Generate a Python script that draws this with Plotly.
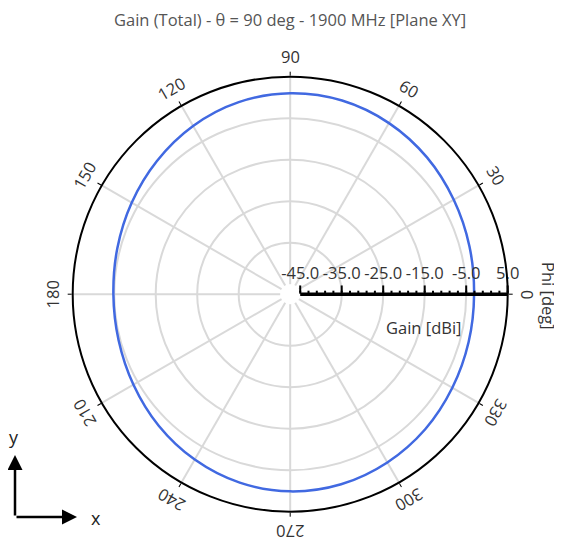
import math
import plotly.graph_objects as go

# ==========================================================
# Data
# ==========================================================

phi_deg = [0, 15, 30, 45, 60, 75, 90, 105, 120, 135, 150, 165, 180,
           195, 210, 225, 240, 255, 270, 285, 300, 315, 330, 345, 360]
gain_dbi = [-3.1, -2.7, -1.9, -0.8, 0.2, 0.9, 1.0, 0.5, -0.6, -2.0, -3.3, -4.3, -4.8,
            -4.6, -3.8, -2.6, -1.4, -0.4, 0.1, 0.0, -0.6, -1.4, -2.3, -2.9, -3.1]

angle_ticks = [0, 30, 60, 90, 120, 150, 180, 210, 240, 270, 300, 330]
radial_range = [-45, 5]
radial_ticks = [-45, -35, -25, -15, -5, 5]
radial_labels = ["-45.0", "-35.0", "-25.0", "-15.0", "-5.0", "5.0"]
minor_ticks = list(range(-45, 6, 2))

title_text = "Gain (Total) - θ = 90 deg - 1900 MHz [Plane XY]"

# ==========================================================
# Geometry helpers (screen pixels of the 562x541 window;
# the page body adds an 8 px margin around the figure)
# ==========================================================

OFF = 8
W, H = 562 - OFF, 541 - OFF
CX, CY, R = 290.2, 294.2, 217.5
FONT = "Open Sans, Noto Sans, sans-serif"
FS = 16.5
HOLE = 0.046


def px(x, y):
    return (x - OFF) / W, (H - (y - OFF)) / H


def label(x, y, text, size=FS, color="#333", angle=0):
    lx, ly = px(x, y)
    return dict(x=lx, y=ly, xref="paper", yref="paper", text=text,
                showarrow=False, textangle=angle,
                xanchor="center", yanchor="middle",
                font=dict(size=size, color=color))


fig = go.Figure()

fig.add_trace(go.Scatterpolar(
    r=gain_dbi,
    theta=phi_deg,
    mode="lines",
    line=dict(color="#4169e1", width=2.5, shape="spline"),
    showlegend=False,
))

# empty trace so the overlay subplot (outer ring + minor ticks) gets drawn
fig.add_trace(go.Scatterpolar(r=[None], theta=[None], subplot="polar2",
                              mode="lines", showlegend=False))

x0, y1 = px(CX - R, CY - R)
x1, y0 = px(CX + R, CY + R)
dom = dict(x=[x0, x1], y=[y0, y1])

# the overlay has no hole, so stretch its range to line up with the main one
ext = (radial_range[1] - radial_range[0]) * HOLE / (1 - HOLE)

fig.update_layout(
    width=W,
    height=H,
    margin=dict(l=0, r=0, t=0, b=0),
    paper_bgcolor="white",
    font=dict(family=FONT, color="#444", size=FS),
    polar=dict(
        domain=dom,
        bgcolor="white",
        hole=HOLE,
        angularaxis=dict(
            rotation=0,
            direction="counterclockwise",
            tickmode="array",
            tickvals=angle_ticks,
            showticklabels=False,
            ticks="",
            showline=False,
            gridcolor="#d9d9d9",
            gridwidth=1.5,
        ),
        radialaxis=dict(
            range=radial_range,
            angle=0,
            tickangle=0,
            side="counterclockwise",
            tickmode="array",
            tickvals=radial_ticks,
            ticktext=radial_labels,
            ticks="outside",
            ticklen=7,
            tickwidth=2,
            tickcolor="black",
            linecolor="black",
            linewidth=3.5,
            gridcolor="#d9d9d9",
            gridwidth=1.5,
            tickfont=dict(size=FS, color="#333"),
        ),
    ),
    polar2=dict(
        domain=dom,
        bgcolor="rgba(0,0,0,0)",
        hole=0,
        angularaxis=dict(
            rotation=0,
            direction="counterclockwise",
            tickmode="array",
            tickvals=angle_ticks,
            showticklabels=False,
            ticks="outside",
            ticklen=4,
            tickcolor="black",
            showline=True,
            linecolor="black",
            linewidth=2,
            showgrid=False,
        ),
        radialaxis=dict(
            range=[radial_range[0] - ext, radial_range[1]],
            angle=0,
            side="counterclockwise",
            tickmode="array",
            tickvals=minor_ticks,
            showticklabels=False,
            ticks="outside",
            ticklen=3,
            tickwidth=1.5,
            tickcolor="black",
            showline=False,
            showgrid=False,
        ),
    ),
)

annotations = [label(290, 20, title_text, color="#555")]

# angular tick labels, rotated along the circle
for a in angle_ticks:
    rad = math.radians(a)
    annotations.append(label(CX + 238 * math.cos(rad), CY - 238 * math.sin(rad),
                             str(a), angle=90 - a))

# axis titles
annotations.append(label(423, 327, "Gain [dBi]"))
annotations.append(label(549, 296, "Phi [deg]", angle=90))

# little x/y orientation icon, bottom left
ux, uy = px(15, 455)
annotations.append(dict(x=ux, y=uy, xref="paper", yref="paper", ax=0, ay=62,
                        showarrow=True, arrowhead=2, arrowsize=1.2, arrowwidth=2.5,
                        arrowcolor="black", text=""))
rx, ry = px(77, 517)
annotations.append(dict(x=rx, y=ry, xref="paper", yref="paper", ax=-62, ay=0,
                        showarrow=True, arrowhead=2, arrowsize=1.2, arrowwidth=2.5,
                        arrowcolor="black", text=""))
annotations.append(label(14, 437, "y", size=18, color="#222"))
annotations.append(label(96, 518, "x", size=18, color="#222"))

fig.update_layout(annotations=annotations)

fig.write_html("out.html")
